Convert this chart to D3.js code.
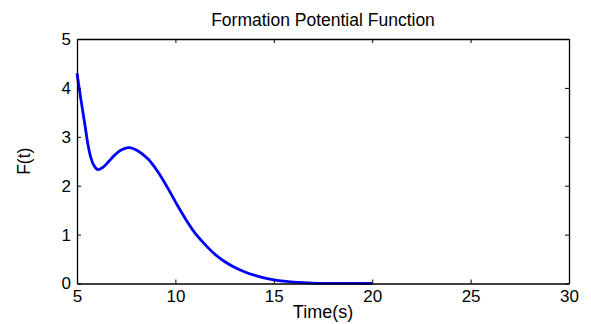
<!DOCTYPE html>
<html>
<head>
<meta charset="utf-8">
<script src="https://cdn.jsdelivr.net/npm/d3@7"></script>
<style>
  body { margin: 0; background: #fff; }
  svg { font-family: "Liberation Sans", Arial, Helvetica, sans-serif; }
</style>
</head>
<body>
<svg id="chart" width="591" height="324"></svg>
<script>
// values
const times = [5, 5.2, 5.4, 5.55, 5.7, 5.85, 6.05, 6.3, 6.6, 6.9, 7.2, 7.65, 8.1, 8.6, 9.1, 9.6, 10.1, 10.5,
  11, 11.5, 12, 12.5, 13, 13.5, 14, 14.5, 15, 15.5, 16, 17, 18, 19, 20];
const potential = [4.30, 3.76, 3.25, 2.86, 2.58, 2.42, 2.33, 2.37, 2.49, 2.62, 2.72, 2.78, 2.71, 2.55, 2.29, 1.96, 1.60, 1.33,
  1.03, 0.80, 0.60, 0.45, 0.33, 0.24, 0.17, 0.115, 0.075, 0.047, 0.028, 0.009, 0.003, 0.001, 0.0003];
const xTicks = [5, 10, 15, 20, 25, 30];
const yTicks = [0, 1, 2, 3, 4, 5];

const width = 591, height = 324;
const margin = {top: 39, right: 22, bottom: 40.5, left: 77};
const svg = d3.select('#chart');

const x = d3.scaleLinear().domain([5, 30]).range([margin.left, width - margin.right]);
const y = d3.scaleLinear().domain([0, 5]).range([height - margin.bottom, margin.top]);

const data = times.map((t, i) => ({t, f: potential[i]}));

// curve first so the axes sit on top
svg.append('path')
  .datum(data)
  .attr('fill', 'none')
  .attr('stroke', '#0000ff')
  .attr('stroke-width', 2.8)
  .attr('stroke-linejoin', 'round')
  .attr('d', d3.line().curve(d3.curveCatmullRom).x(d => x(d.t)).y(d => y(d.f)));

const tick = 4;
const axisStyle = g => {
  g.select('.domain').attr('stroke', '#000').attr('stroke-width', 1.3);
  g.selectAll('.tick line').attr('stroke', '#000');
  g.selectAll('.tick text').attr('font-size', 17).attr('fill', '#000');
};

svg.append('g')
  .attr('transform', `translate(0,${height - margin.bottom})`)
  .call(d3.axisBottom(x).tickValues(xTicks).tickSize(-tick).tickSizeOuter(0).tickPadding(6))
  .call(axisStyle);
svg.append('g')
  .attr('transform', `translate(0,${margin.top})`)
  .call(d3.axisTop(x).tickValues(xTicks).tickSize(-tick).tickSizeOuter(0).tickFormat(''))
  .call(axisStyle);
svg.append('g')
  .attr('transform', `translate(${margin.left},0)`)
  .call(d3.axisLeft(y).tickValues(yTicks).tickFormat(d3.format('d')).tickSize(-tick).tickSizeOuter(0).tickPadding(6))
  .call(axisStyle);
svg.append('g')
  .attr('transform', `translate(${width - margin.right},0)`)
  .call(d3.axisRight(y).tickValues(yTicks).tickSize(-tick).tickSizeOuter(0).tickFormat(''))
  .call(axisStyle);

svg.append('text')
  .attr('x', (margin.left + width - margin.right) / 2)
  .attr('y', 25.5)
  .attr('text-anchor', 'middle')
  .attr('font-size', 17.5)
  .text('Formation Potential Function');

svg.append('text')
  .attr('x', (margin.left + width - margin.right) / 2)
  .attr('y', 318)
  .attr('text-anchor', 'middle')
  .attr('font-size', 18)
  .text('Time(s)');

svg.append('text')
  .attr('transform', `translate(30,${(margin.top + height - margin.bottom) / 2}) rotate(-90)`)
  .attr('text-anchor', 'middle')
  .attr('font-size', 17.5)
  .text('F(t)');
</script>
</body>
</html>
